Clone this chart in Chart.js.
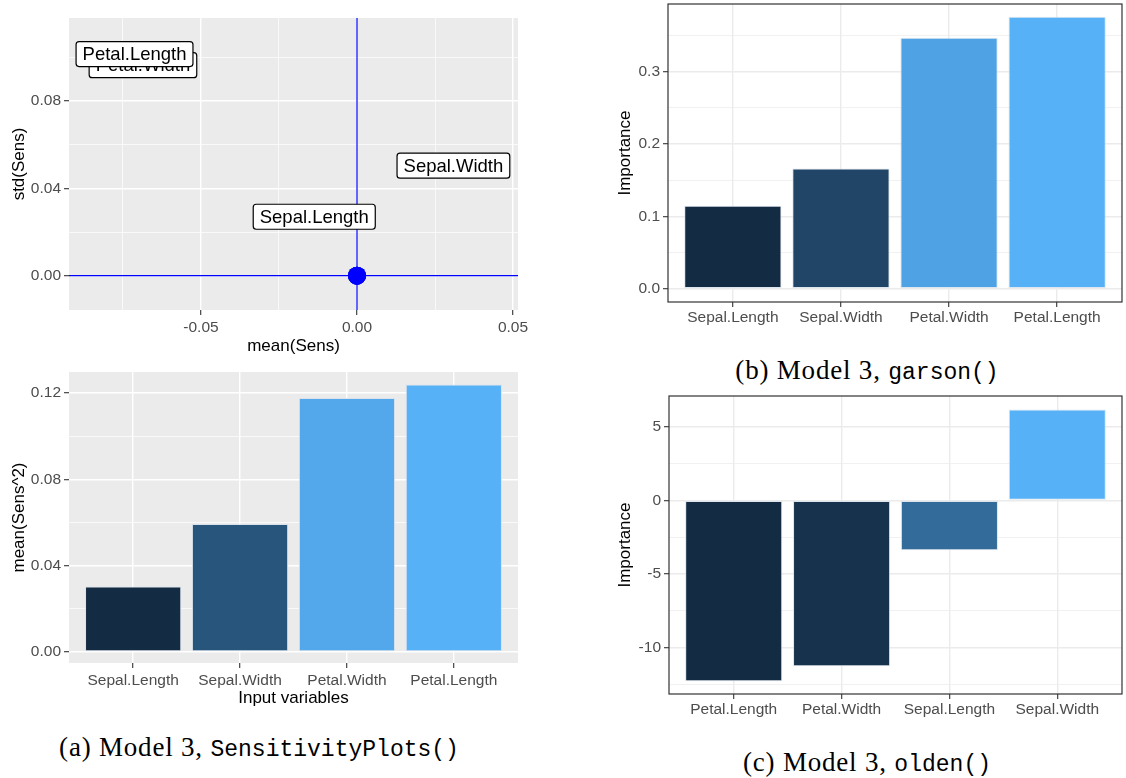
<!DOCTYPE html>
<html>
<head>
<meta charset="utf-8">
<title>Model 3 sensitivity / garson / olden</title>
<script src="https://cdn.jsdelivr.net/npm/chart.js@4.4.1/dist/chart.umd.min.js"></script>
<style>
    html, body { margin: 0; padding: 0; background: #fff; }
    #page { position: relative; width: 1126px; height: 778px; overflow: hidden; }
    #page canvas { position: absolute; }
    .caption {
        position: absolute;
        transform: translate(-50%, -50%);
        white-space: nowrap;
        font-family: "Liberation Serif", serif;
        font-size: 27px;
        color: #000;
    }
    .caption span { letter-spacing: 0.8px; }
    .caption code { font-family: "Liberation Mono", monospace; font-size: 23px; letter-spacing: 0; }
</style>
</head>
<body>
<div id="page">
    <canvas id="sensScatter" width="530" height="360" style="left:0;top:0"></canvas>
    <canvas id="sensBar" width="530" height="355" style="left:0;top:360px"></canvas>
    <canvas id="garsonBar" width="526" height="330" style="left:600px;top:0"></canvas>
    <canvas id="oldenBar" width="526" height="340" style="left:600px;top:390px"></canvas>

    <div class="caption" style="left:259px;top:747px"><span>(a) Model 3, </span><code>SensitivityPlots()</code></div>
    <div class="caption" style="left:867px;top:370px"><span>(b) Model 3, </span><code>garson()</code></div>
    <div class="caption" style="left:867px;top:762px"><span>(c) Model 3, </span><code>olden()</code></div>
</div>

<script>
/* =====================================================
   DATA
===================================================== */

// SensitivityPlots(): mean / std of the sensitivities
const sensNames = ["Sepal.Length", "Sepal.Width", "Petal.Width", "Petal.Length"];
const sensMean = [0, 0, 0, 0];
const sensStd = [0, 0, 0, 0];

// where the (repelled) text labels ended up, in data units
const labelMean = [-0.0137, 0.0309, -0.0686, -0.0713];
const labelStd = [0.0270, 0.0504, 0.0964, 0.1015];

const sensXTicks = [-0.075, -0.05, -0.025, 0, 0.025, 0.05];
const sensYTicks = [0, 0.02, 0.04, 0.06, 0.08, 0.10];

// SensitivityPlots(): mean(Sens^2)
const sqNames = ["Sepal.Length", "Sepal.Width", "Petal.Width", "Petal.Length"];
const sqValues = [0.0303, 0.0593, 0.1177, 0.1239];
const sqTicks = [0, 0.02, 0.04, 0.06, 0.08, 0.10, 0.12];

// garson()
const garsonNames = ["Sepal.Length", "Sepal.Width", "Petal.Width", "Petal.Length"];
const garsonValues = [0.1148, 0.1660, 0.3470, 0.3760];
const garsonTicks = [0, 0.05, 0.10, 0.15, 0.20, 0.25, 0.30, 0.35];

// olden()
const oldenNames = ["Petal.Length", "Petal.Width", "Sepal.Length", "Sepal.Width"];
const oldenValues = [-12.31, -11.29, -3.40, 6.19];
const oldenTicks = [-12.5, -10, -7.5, -5, -2.5, 0, 2.5, 5];


/* =====================================================
   LOOK
===================================================== */

const SANS = "'Liberation Sans', Arial, sans-serif";
const LOW = [19, 43, 67];     // ggplot gradient ends
const HIGH = [86, 177, 247];

const greyTheme = { fill: "#EBEBEB", grid: "#FFFFFF", border: null };
const bwTheme = { fill: "#FFFFFF", grid: "#EBEBEB", border: "#333333" };

function gradientFill(values) {
    const lo = Math.min(...values);
    const hi = Math.max(...values);
    return values.map(v => {
        const t = (v - lo) / (hi - lo);
        const c = LOW.map((l, k) => Math.round(l + (HIGH[k] - l) * t));
        return `rgb(${c[0]},${c[1]},${c[2]})`;
    });
}

function isMajor(v, major) {
    const r = v / major;
    return Math.abs(r - Math.round(r)) < 1e-6;
}

// panel background + theme_bw frame
const panelPlugin = {
    id: "panel",
    beforeDraw(chart, args, opts) {
        const { ctx, chartArea: a } = chart;
        ctx.save();
        ctx.fillStyle = opts.fill;
        ctx.fillRect(a.left, a.top, a.width, a.height);
        ctx.restore();
    },
    afterDraw(chart, args, opts) {
        if (!opts.border) return;
        const { ctx, chartArea: a } = chart;
        ctx.save();
        ctx.strokeStyle = opts.border;
        ctx.lineWidth = 1.2;
        ctx.strokeRect(a.left, a.top, a.width, a.height);
        ctx.restore();
    }
};

// boxed text labels for the scatter
const labelPlugin = {
    id: "boxLabels",
    afterDatasetsDraw(chart) {
        const { ctx, scales: { x, y } } = chart;
        ctx.save();
        ctx.font = `18.5px ${SANS}`;
        ctx.textAlign = "center";
        ctx.textBaseline = "middle";
        sensNames.forEach((name, i) => {
            const px = x.getPixelForValue(labelMean[i]);
            const py = y.getPixelForValue(labelStd[i]);
            const w = ctx.measureText(name).width + 13;
            const h = 25;
            ctx.beginPath();
            ctx.roundRect(px - w / 2, py - h / 2, w, h, 3);
            ctx.fillStyle = "#FFFFFF";
            ctx.fill();
            ctx.lineWidth = 1.2;
            ctx.strokeStyle = "#000000";
            ctx.stroke();
            ctx.fillStyle = "#000000";
            ctx.fillText(name, px, py + 1);
        });
        ctx.restore();
    }
};


/* =====================================================
   AXES
===================================================== */

function axis(o) {
    return {
        type: "linear",
        position: o.position,
        min: o.min,
        max: o.max,
        offset: false,
        afterBuildTicks: s => { s.ticks = o.ticks.map(v => ({ value: v })); },
        afterFit: s => {
            if (o.position === "bottom") s.height = o.size;
            else s.width = o.size;
            // no extra room for overhanging labels, the plot box is fixed
            s.paddingTop = s.paddingBottom = s.paddingLeft = s.paddingRight = 0;
        },
        border: { display: false },
        grid: {
            offset: false,
            color: o.theme.grid,
            lineWidth: c => (c.tick && isMajor(c.tick.value, o.major)) ? 1.4 : 0.7,
            tickColor: c => (c.tick && isMajor(c.tick.value, o.major)) ? "#333333" : "rgba(0,0,0,0)",
            tickLength: 5,
            tickWidth: 1.1
        },
        ticks: {
            autoSkip: false,
            maxRotation: 0,
            padding: o.tickPad,
            color: "#4D4D4D",
            font: { family: SANS, size: 15.5 },
            callback: v => isMajor(v, o.major) ? o.format(v) : ""
        },
        title: {
            display: !!o.title,
            text: o.title,
            color: "#000000",
            font: { family: SANS, size: 17 },
            padding: o.titlePad || 0
        }
    };
}

function baseOptions(theme, padding, scales) {
    return {
        responsive: false,
        animation: false,
        devicePixelRatio: 1,
        layout: { padding },
        plugins: {
            legend: { display: false },
            tooltip: { enabled: false },
            panel: theme
        },
        scales
    };
}


/* =====================================================
   DRAW CHARTS
===================================================== */

function drawScatter() {
    const theme = greyTheme;
    new Chart(document.getElementById("sensScatter"), {
        type: "scatter",
        data: {
            datasets: [
                {   // y = 0
                    data: [{ x: -1, y: 0 }, { x: 1, y: 0 }],
                    showLine: true, borderColor: "#0000FF", borderWidth: 1.2, pointRadius: 0
                },
                {   // x = 0
                    data: [{ x: 0, y: -1 }, { x: 0, y: 1 }],
                    showLine: true, borderColor: "#0000FF", borderWidth: 1.2, pointRadius: 0
                },
                {
                    data: sensMean.map((m, i) => ({ x: m, y: sensStd[i] })),
                    pointRadius: 9, backgroundColor: "#0000FF", borderColor: "#0000FF", borderWidth: 0
                }
            ]
        },
        options: baseOptions(theme, { top: 18, right: 12, left: 0, bottom: 0 }, {
            x: axis({
                position: "bottom", min: -0.0923, max: 0.0516, ticks: sensXTicks, major: 0.05,
                size: 50, tickPad: 3, theme, format: v => v.toFixed(2),
                title: "mean(Sens)", titlePad: { bottom: 3 }
            }),
            y: axis({
                position: "left", min: -0.0157, max: 0.118, ticks: sensYTicks, major: 0.04,
                size: 69, tickPad: 3, theme, format: v => v.toFixed(2),
                title: "std(Sens)", titlePad: { top: 9 }
            })
        }),
        plugins: [panelPlugin, labelPlugin]
    });
}

function drawBars(id, names, values, cfg) {
    const theme = cfg.theme;
    new Chart(document.getElementById(id), {
        type: "bar",
        data: {
            datasets: [{
                data: values.map((v, i) => ({ x: i + 1, y: v })),
                backgroundColor: gradientFill(values),
                borderColor: "rgba(215,225,235,0.85)",
                borderWidth: 1,
                borderSkipped: false,
                categoryPercentage: 1,
                barPercentage: 0.9
            }]
        },
        options: baseOptions(theme, cfg.padding, {
            x: axis({
                position: "bottom", min: 0.4, max: names.length + 0.6,
                ticks: names.map((n, i) => i + 1), major: 1,
                size: cfg.xSize, tickPad: cfg.tickPad, theme,
                format: v => names[Math.round(v) - 1],
                title: cfg.xTitle, titlePad: cfg.xTitlePad
            }),
            y: axis({
                position: "left", min: cfg.min, max: cfg.max, ticks: cfg.ticks, major: cfg.major,
                size: cfg.ySize, tickPad: 3, theme, format: cfg.format,
                title: cfg.yTitle, titlePad: cfg.yTitlePad
            })
        }),
        plugins: [panelPlugin]
    });
}


/* =====================================================
   MAIN RENDER
===================================================== */

drawScatter();

drawBars("sensBar", sqNames, sqValues, {
    theme: greyTheme,
    padding: { top: 12, right: 12, left: 0, bottom: 0 },
    min: -0.0051, max: 0.1297, ticks: sqTicks, major: 0.04,
    format: v => v.toFixed(2),
    xSize: 52, ySize: 69, tickPad: 3,
    xTitle: "Input variables", xTitlePad: { bottom: 6 },
    yTitle: "mean(Sens^2)", yTitlePad: { top: 9 }
});

drawBars("garsonBar", garsonNames, garsonValues, {
    theme: bwTheme,
    padding: { top: 4, right: 4, left: 0, bottom: 0 },
    min: -0.0184, max: 0.3936, ticks: garsonTicks, major: 0.1,
    format: v => v.toFixed(1),
    xSize: 28, ySize: 68, tickPad: 1,
    yTitle: "Importance", yTitlePad: { top: 15 }
});

drawBars("oldenBar", oldenNames, oldenValues, {
    theme: bwTheme,
    padding: { top: 6, right: 4, left: 0, bottom: 0 },
    min: -13.18, max: 7.11, ticks: oldenTicks, major: 5,
    format: v => v.toFixed(0),
    xSize: 36, ySize: 69, tickPad: 1,
    yTitle: "Importance", yTitlePad: { top: 15 }
});
</script>
</body>
</html>
